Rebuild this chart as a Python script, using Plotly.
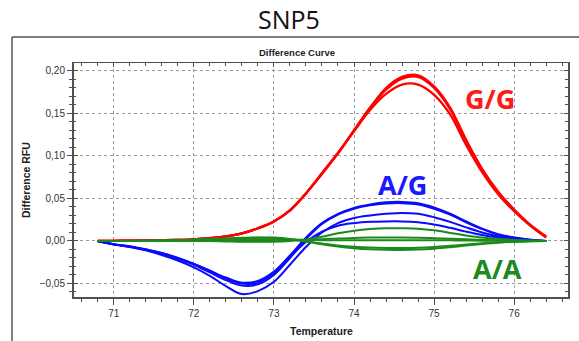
import plotly.graph_objects as go

# ---------------- data ----------------
temps = [70.8, 71.0, 71.2, 71.4, 71.6, 71.8, 72.0, 72.2, 72.4, 72.6, 72.8,
         73.0, 73.2, 73.4, 73.6, 73.8, 74.0, 74.2, 74.4, 74.6, 74.8,
         75.0, 75.2, 75.4, 75.6, 75.8, 76.0, 76.2, 76.4]

# G/G (red)
red_1 = [0.000, 0.0002, 0.0004, 0.0006, 0.0009, 0.0013, 0.002, 0.0033, 0.0055, 0.009, 0.015,
         0.023, 0.036, 0.056, 0.079, 0.103, 0.130, 0.157, 0.180, 0.193, 0.195,
         0.182, 0.157, 0.119, 0.085, 0.058, 0.037, 0.019, 0.005]
red_2 = [0.000, 0.0002, 0.0004, 0.0006, 0.0009, 0.0013, 0.002, 0.0033, 0.0055, 0.009, 0.015,
         0.023, 0.036, 0.056, 0.079, 0.103, 0.130, 0.156, 0.178, 0.191, 0.193,
         0.180, 0.155, 0.117, 0.084, 0.057, 0.036, 0.019, 0.005]
red_3 = [0.000, 0.0002, 0.0004, 0.0006, 0.0009, 0.0013, 0.002, 0.0033, 0.0055, 0.009, 0.015,
         0.023, 0.036, 0.056, 0.080, 0.104, 0.129, 0.154, 0.173, 0.184, 0.184,
         0.172, 0.149, 0.113, 0.081, 0.055, 0.035, 0.018, 0.004]

# A/G (blue)
blue_1 = [0.000, -0.004, -0.0065, -0.010, -0.014, -0.020, -0.027, -0.035, -0.043, -0.049, -0.047,
          -0.036, -0.017, 0.004, 0.021, 0.032, 0.039, 0.043, 0.0455, 0.046, 0.0445,
          0.0395, 0.032, 0.023, 0.0145, 0.008, 0.004, 0.0015, 0.000]
blue_2 = [0.000, -0.004, -0.0068, -0.0105, -0.015, -0.021, -0.028, -0.037, -0.046, -0.0525, -0.051,
          -0.040, -0.020, 0.002, 0.020, 0.031, 0.038, 0.042, 0.044, 0.0445, 0.043,
          0.038, 0.031, 0.022, 0.014, 0.0075, 0.0038, 0.0015, 0.000]
blue_3 = [0.000, -0.0038, -0.0062, -0.0098, -0.014, -0.020, -0.027, -0.035, -0.044, -0.050, -0.049,
          -0.038, -0.019, -0.001, 0.011, 0.018, 0.021, 0.0225, 0.023, 0.023, 0.022,
          0.0195, 0.0155, 0.011, 0.007, 0.004, 0.002, 0.0008, 0.000]
blue_4 = [0.000, -0.004, -0.007, -0.011, -0.0165, -0.023, -0.031, -0.041, -0.053, -0.0625, -0.059,
          -0.048, -0.028, -0.007, 0.010, 0.021, 0.027, 0.030, 0.032, 0.033, 0.032,
          0.028, 0.0225, 0.016, 0.010, 0.0055, 0.0027, 0.001, 0.000]

# A/A (green)
green_1 = [0.000, 0.000, 0.000, 0.000, 0.000, 0.000, 0.000, 0.000, -0.0005, -0.001, -0.001,
           -0.0008, 0.000, 0.0015, 0.005, 0.009, 0.012, 0.014, 0.015, 0.015, 0.0145,
           0.0125, 0.0095, 0.0065, 0.004, 0.0025, 0.0012, 0.0005, 0.000]
green_2 = [0.000, 0.000, 0.000, 0.000, 0.000, 0.0002, 0.0004, 0.0006, 0.0008, 0.001, 0.0012,
           0.0012, 0.0012, 0.0015, 0.002, 0.003, 0.0035, 0.004, 0.004, 0.004, 0.0038,
           0.0033, 0.0027, 0.002, 0.0014, 0.0008, 0.0004, 0.0002, 0.000]
green_3 = [0.000, 0.000, 0.000, 0.000, 0.0002, 0.0004, 0.0008, 0.0012, 0.0015, 0.0018, 0.002,
           0.002, 0.0016, 0.0012, 0.001, 0.001, 0.001, 0.001, 0.001, 0.001, 0.001,
           0.0009, 0.0008, 0.0006, 0.0004, 0.0002, 0.0001, 0.000, 0.000]
green_4 = [0.000, 0.000, 0.000, 0.0002, 0.0005, 0.0009, 0.0014, 0.002, 0.0027, 0.0033, 0.0037,
           0.0035, 0.002, -0.0005, -0.003, -0.0052, -0.0067, -0.0077, -0.0082, -0.0083, -0.008,
           -0.0071, -0.0057, -0.0041, -0.0027, -0.0016, -0.0008, -0.0003, 0.000]
green_5 = [0.000, 0.000, 0.000, 0.0002, 0.0006, 0.001, 0.0016, 0.0023, 0.003, 0.0037, 0.0042,
           0.004, 0.0024, -0.0005, -0.0038, -0.0065, -0.0085, -0.0098, -0.0104, -0.0105, -0.0101,
           -0.009, -0.0073, -0.0053, -0.0035, -0.002, -0.001, -0.0004, 0.000]

red_series = [red_3, red_2, red_1]
blue_series = [blue_1, blue_2, blue_3, blue_4]
green_series = [green_1, green_2, green_3, green_4, green_5]

title_text = "SNP5"
subtitle_text = "Difference Curve"
x_title = "Temperature"
y_title = "Difference RFU"
labels = ["G/G", "A/G", "A/A"]

# ---------------- style ----------------
RED = "#ff0000"
BLUE = "#0a0aff"
GREEN = "#1b8a1b"
AXIS = "#505050"
TICKFONT = dict(family="Liberation Sans, Arial", size=10, color="#333333")
BOLD = "Liberation Sans, Arial"

X_RANGE = [70.504, 76.672]
Y_RANGE = [-0.0659, 0.2094]

fig = go.Figure()
for s in red_series:
    fig.add_trace(go.Scatter(x=temps, y=s, mode="lines",
                             line=dict(color=RED, width=2.3, shape="spline", smoothing=1),
                             showlegend=False, hoverinfo="skip"))
for s in blue_series:
    fig.add_trace(go.Scatter(x=temps, y=s, mode="lines",
                             line=dict(color=BLUE, width=2, shape="spline", smoothing=1),
                             showlegend=False, hoverinfo="skip"))
for s in green_series:
    fig.add_trace(go.Scatter(x=temps, y=s, mode="lines",
                             line=dict(color=GREEN, width=2, shape="spline", smoothing=1),
                             showlegend=False, hoverinfo="skip"))

# dummy traces to anchor the helper axes
fig.add_trace(go.Scatter(x=[None], y=[None], xaxis="x2", yaxis="y2", showlegend=False, hoverinfo="skip"))
fig.add_trace(go.Scatter(x=[None], y=[None], xaxis="x", yaxis="y3", showlegend=False, hoverinfo="skip"))

fig.update_layout(
    width=579, height=341,
    margin=dict(l=74, r=11, t=63, b=44),
    paper_bgcolor="white", plot_bgcolor="white",
    separators=",.",
    showlegend=False,
    xaxis=dict(range=X_RANGE, tick0=0, dtick=1, ticks="outside", ticklen=6, tickwidth=1,
               tickcolor=AXIS, minor=dict(dtick=0.2, ticks="outside", ticklen=3, tickcolor=AXIS),
               showline=True, linecolor=AXIS, linewidth=2, showgrid=True,
               gridcolor="#9a9a9a", griddash="dot", gridwidth=1, zeroline=False,
               tickfont=TICKFONT, fixedrange=True),
    xaxis2=dict(range=X_RANGE, overlaying="x", side="top", tick0=0, dtick=1, ticks="inside",
                ticklen=4, tickcolor=AXIS,
                minor=dict(dtick=0.2, ticks="inside", ticklen=3, tickcolor=AXIS),
                showticklabels=False, showline=True, linecolor=AXIS, linewidth=1.5,
                showgrid=False, zeroline=False),
    yaxis=dict(range=Y_RANGE, tick0=0, dtick=0.05, tickformat=".2f", ticks="outside",
               ticklen=5, tickwidth=1, tickcolor=AXIS,
               minor=dict(dtick=0.01, ticks="outside", ticklen=3, tickcolor=AXIS),
               showline=True, linecolor=AXIS, linewidth=2, showgrid=True,
               gridcolor="#9a9a9a", griddash="dot", gridwidth=1, zeroline=False,
               tickfont=TICKFONT),
    yaxis2=dict(range=Y_RANGE, overlaying="y", side="right", tick0=0, dtick=0.05,
                ticks="inside", ticklen=4, tickcolor=AXIS,
                minor=dict(dtick=0.01, ticks="inside", ticklen=3, tickcolor=AXIS),
                showticklabels=False, showline=True, linecolor=AXIS, linewidth=1.5,
                showgrid=False, zeroline=False),
    yaxis3=dict(range=Y_RANGE, overlaying="y", side="left", tick0=0, dtick=0.05,
                ticks="inside", ticklen=4, tickcolor=AXIS,
                minor=dict(dtick=0.01, ticks="inside", ticklen=2, tickcolor=AXIS),
                showticklabels=False, showline=False, showgrid=False, zeroline=False),
)

# outer frame (top and left edges)
fig.add_shape(type="line", xref="paper", yref="paper", x0=-0.1255, x1=1.03, y0=1.1111, y1=1.1111,
              line=dict(color="#555555", width=1.5))
fig.add_shape(type="line", xref="paper", yref="paper", x0=-0.1255, x1=-0.1255, y0=1.1111, y1=-0.2,
              line=dict(color="#555555", width=1.5))

ann = [
    dict(text=title_text, x=0.4362, y=1.188, font=dict(family="Open Sans", size=25, color="#111111")),
    dict(text="<b>%s</b>" % subtitle_text, x=0.4514, y=1.047, font=dict(family=BOLD, size=9.5, color="#222222")),
    dict(text="<b>%s</b>" % x_title, x=0.5, y=-0.1453, font=dict(family=BOLD, size=10.5, color="#222222")),
    dict(text="<b>%s</b>" % y_title, x=-0.0972, y=0.5, textangle=-90, font=dict(family=BOLD, size=10.5, color="#222222")),
    dict(text="<b>%s</b>" % labels[0], x=0.8421, y=0.8504, font=dict(family="Open Sans", size=27, color="#ff1a1a")),
    dict(text="<b>%s</b>" % labels[1], x=0.664, y=0.4829, font=dict(family="Open Sans", size=27, color="#1a1aff")),
    dict(text="<b>%s</b>" % labels[2], x=0.8563, y=0.1239, font=dict(family="Open Sans", size=27, color="#1e8a1e")),
]
for a in ann:
    fig.add_annotation(xref="paper", yref="paper", showarrow=False, xanchor="center", yanchor="middle", **a)

fig.write_html("out.html",
               config={"displayModeBar": False, "staticPlot": True},
               post_script="document.body.style.margin='0';document.body.style.padding='0';")
